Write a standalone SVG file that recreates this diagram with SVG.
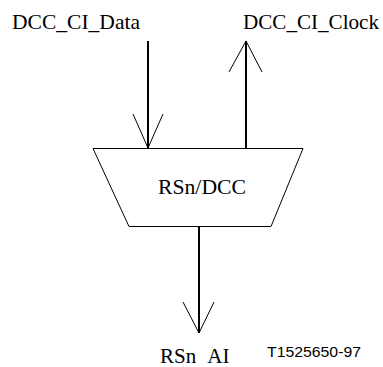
<svg xmlns="http://www.w3.org/2000/svg" width="383" height="367" viewBox="0 0 383 367">
<style>
.t{font-family:"Liberation Serif","Times New Roman",serif;font-size:21px;fill:#000}
.s{font-family:"Liberation Sans",Arial,sans-serif;font-size:15px;fill:#000}
.shaft{stroke:#000;stroke-width:2;fill:none}
.head{stroke:#000;stroke-width:1;fill:none}
.box{stroke:#000;stroke-width:1;fill:#fff}
</style>
<rect width="383" height="367" fill="#fff"/>
<g id="connectors">
<line class="shaft" x1="148" y1="41" x2="148" y2="148"/>
<polyline class="head" points="133,114 148,148 163,114"/>
<line class="shaft" x1="246" y1="148" x2="246" y2="41"/>
<polyline class="head" points="229,72 246,41 262,72"/>
<line class="shaft" x1="199" y1="227" x2="199" y2="333"/>
<polyline class="head" points="183,302 199,333 214,302"/>
</g>
<g id="rsn_dcc">
<polygon class="box" points="93,148.5 303,148.5 271,226.5 129,226.5"/>
<text class="t" x="158" y="194" textLength="88" lengthAdjust="spacingAndGlyphs">RSn/DCC</text>
</g>
<g id="dcc_ci_data"><text class="t" x="12" y="29" textLength="128" lengthAdjust="spacingAndGlyphs">DCC_CI_Data</text></g>
<g id="dcc_ci_clock"><text class="t" x="243" y="29" textLength="136" lengthAdjust="spacingAndGlyphs">DCC_CI_Clock</text></g>
<g id="rsn_ai"><text class="t" x="160" y="363" word-spacing="7">RSn AI</text></g>
<text class="s" x="267" y="357" textLength="94" lengthAdjust="spacingAndGlyphs">T1525650-97</text>
</svg>
